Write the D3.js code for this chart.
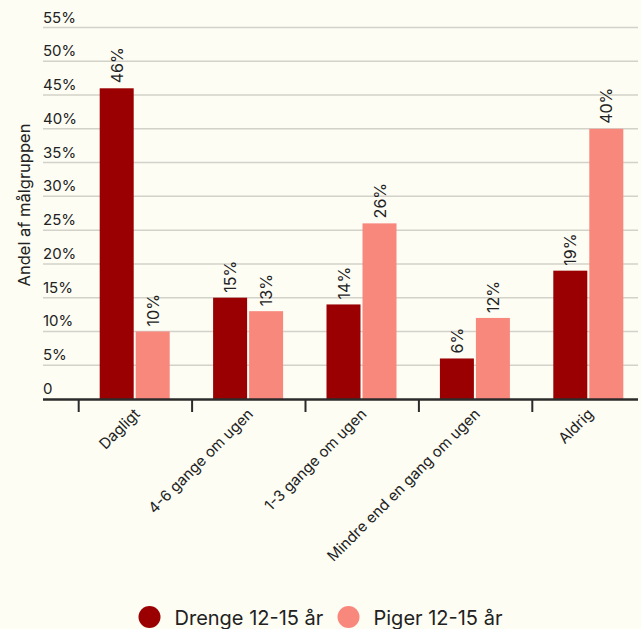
<!DOCTYPE html>
<html>
<head>
<meta charset="utf-8">
<script src="https://cdn.jsdelivr.net/npm/d3@7"></script>
<style>
  html, body { margin: 0; padding: 0; background: #fdfdf4; }
  svg { display: block; font-family: Inter, "DejaVu Sans", sans-serif; }
</style>
</head>
<body>
<div id="chart"></div>
<script>
// ---- data
var categories = ["Dagligt", "4-6 gange om ugen", "1-3 gange om ugen", "Mindre end en gang om ugen", "Aldrig"];
var series = ["Drenge 12-15 år", "Piger 12-15 år"];
var drenge = [46, 15, 14, 6, 19];
var piger = [10, 13, 26, 12, 40];
var yTicks = [0, 5, 10, 15, 20, 25, 30, 35, 40, 45, 50, 55];
var colors = ["#9a0002", "#f8877c"];

var values = [drenge, piger];
var data = categories.map(function(c, i) {
  return { cat: c, vals: series.map(function(s, j) { return { key: s, value: values[j][i] }; }) };
});

// ---- layout
var W = 641, H = 629;
var left = 43, right = 638, bandStart = 78, bandEnd = 645;
var y0 = 399, yTop = 27.5;

var svg = d3.select("#chart").append("svg")
    .attr("width", W)
    .attr("height", H);

var x0 = d3.scaleBand()
    .domain(categories)
    .range([bandStart, bandEnd])
    .paddingInner(0).paddingOuter(0);

var bw = x0.bandwidth();
var x1 = d3.scaleBand()
    .domain(series)
    .range([bw / 2 - 35, bw / 2 + 35])
    .paddingInner(2 / 36);

var y = d3.scaleLinear()
    .domain([0, 55])
    .range([y0, yTop]);

var color = d3.scaleOrdinal().domain(series).range(colors);

// gridlines + y labels
var grid = svg.append("g");
grid.selectAll("line")
  .data(yTicks.filter(function(d) { return d > 0; }))
  .enter().append("line")
    .attr("x1", left).attr("x2", right)
    .attr("y1", function(d) { return y(d); })
    .attr("y2", function(d) { return y(d); })
    .attr("stroke", "#d2d2c9")
    .attr("stroke-width", 1.5);

grid.selectAll("text")
  .data(yTicks)
  .enter().append("text")
    .attr("x", left)
    .attr("y", function(d) { return y(d) - 5; })
    .attr("font-size", 15)
    .attr("fill", "#222")
    .text(function(d) { return d === 0 ? "0" : d + "%"; });

// y title
svg.append("text")
    .attr("transform", "translate(30,205) rotate(-90)")
    .attr("text-anchor", "middle")
    .attr("font-size", 16.5)
    .attr("fill", "#222")
    .text("Andel af målgruppen");

// bars
var groups = svg.append("g").selectAll("g")
  .data(data)
  .enter().append("g")
    .attr("transform", function(d) { return "translate(" + x0(d.cat) + ",0)"; });

groups.selectAll("rect")
  .data(function(d) { return d.vals; })
  .enter().append("rect")
    .attr("x", function(d) { return x1(d.key); })
    .attr("width", x1.bandwidth())
    .attr("y", function(d) { return y(d.value); })
    .attr("height", function(d) { return y0 - y(d.value); })
    .attr("fill", function(d) { return color(d.key); });

groups.selectAll("text")
  .data(function(d) { return d.vals; })
  .enter().append("text")
    .attr("transform", function(d) {
      return "translate(" + (x1(d.key) + x1.bandwidth() / 2 + 6) + "," + (y(d.value) - 5) + ") rotate(-90)";
    })
    .attr("font-size", 16)
    .attr("fill", "#222")
    .text(function(d) { return d.value + "%"; });

// x axis
var xAxis = svg.append("g")
    .attr("transform", "translate(0," + y0 + ")");

xAxis.append("line")
    .attr("x1", left).attr("x2", right)
    .attr("y1", 0.5).attr("y2", 0.5)
    .attr("stroke", "#2b2b2b")
    .attr("stroke-width", 2.5);

xAxis.selectAll("line.tick")
  .data(categories)
  .enter().append("line")
    .attr("class", "tick")
    .attr("x1", function(d) { return x0(d) + 0.7; })
    .attr("x2", function(d) { return x0(d) + 0.7; })
    .attr("y1", 1).attr("y2", 13)
    .attr("stroke", "#2b2b2b")
    .attr("stroke-width", 2);

xAxis.selectAll("text")
  .data(categories)
  .enter().append("text")
    .attr("transform", function(d) {
      return "translate(" + (x0(d) + bw / 2 + 6) + ",16) rotate(-45)";
    })
    .attr("text-anchor", "end")
    .attr("font-size", 15)
    .attr("fill", "#222")
    .text(function(d) { return d; });

// legend
var legend = svg.append("g")
  .selectAll("g")
  .data(series)
  .enter().append("g")
    .attr("transform", function(d, i) { return "translate(" + [149.5, 348.5][i] + ",617)"; });

legend.append("circle")
    .attr("r", 11)
    .attr("fill", function(d) { return color(d); });

legend.append("text")
    .attr("x", 25)
    .attr("y", 7.5)
    .attr("font-size", 20)
    .attr("fill", "#222")
    .text(function(d) { return d; });
</script>
</body>
</html>
